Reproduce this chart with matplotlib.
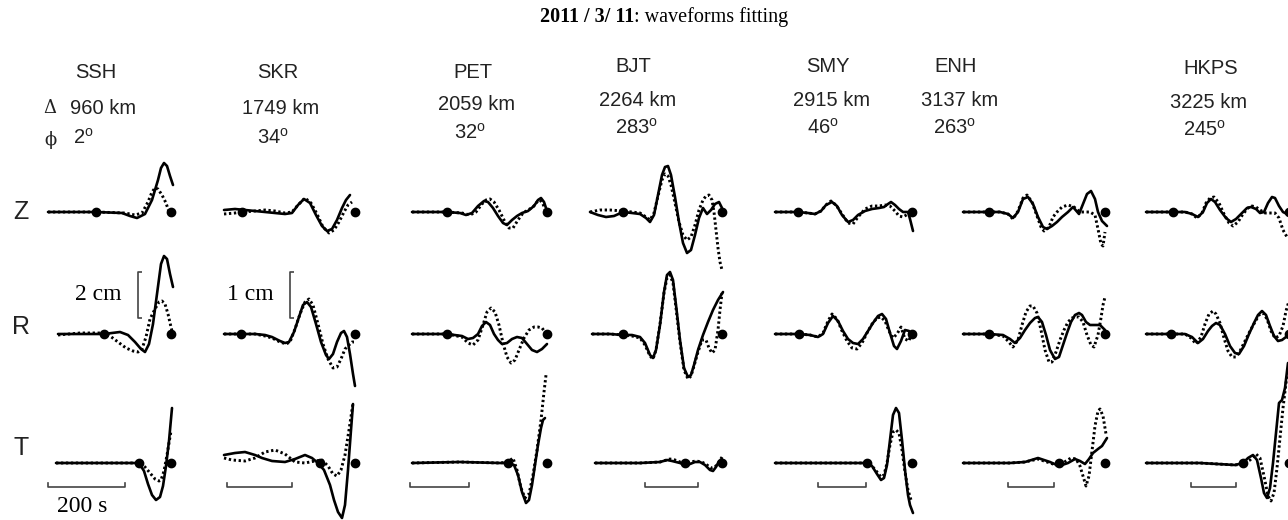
import numpy as np
import matplotlib.pyplot as plt

# Figure size in pixels (dpi 100)
W, H = 1288, 520

stations = ["SSH", "SKR", "PET", "BJT", "SMY", "ENH", "HKPS"]
distances_km = [960, 1749, 2059, 2264, 2915, 3137, 3225]
azimuths_deg = [2, 34, 32, 283, 46, 263, 245]
components = ["Z", "R", "T"]

# number of samples covered by the 200 s time bar at each station
bar_samples = [77, 65, 59, 53, 48, 46, 45]
bar_start = [-123, -128, -137, -77, -94, -97, -98]

# arrival picks (sample index relative to the window end) for Z, R, T
SSH_PICKS = [-75, -67, -32]
SKR_PICKS = [-113, -114, -35]
PET_PICKS = [-100, -100, -39]
BJT_PICKS = [-99, -99, -37]
SMY_PICKS = [-114, -113, -45]
ENH_PICKS = [-116, -116, -46]
HKPS_PICKS = [-116, -118, -46]

# Waveform knots: (sample index relative to window end, amplitude)
# OBS = recorded (solid), SYN = synthetic (dotted)
SSH_Z_OBS = [(-123, 0), (-75, 0), (-49, -1), (-41, -4), (-34, -6), (-26, -2), (-19, 12), (-13, 32),
             (-10, 44), (-7, 49), (-4, 46), (-1, 36), (2, 27)]
SSH_Z_SYN = [(-123, 0), (-75, 0), (-46, -1), (-36, -3), (-29, -1), (-23, 10), (-19, 20), (-16, 24),
             (-13, 23), (-9, 17), (-5, 9), (-2, 0), (0, -4)]
SSH_R_OBS = [(-113, 0), (-67, 0), (-51, 2), (-43, -1), (-36, -8), (-30, -15), (-26, -18), (-22, -10),
             (-18, 10), (-14, 40), (-10, 70), (-7, 78), (-4, 75), (-1, 60), (2, 47)]
SSH_R_SYN = [(-113, -1), (-91, 1), (-67, 1), (-61, -2), (-53, -8), (-45, -14), (-38, -17), (-33, -18),
             (-29, -15), (-25, -3), (-21, 15), (-16, 25), (-12, 32), (-9, 33), (-6, 30), (-3, 20),
             (0, 7), (2, -1)]
SSH_T_OBS = [(-115, 0), (-71, 0), (-32, 0), (-27, -8), (-23, -21), (-19, -32), (-15, -37), (-11, -34),
             (-8, -23), (-5, -3), (-2, 22), (1, 55)]
SSH_T_SYN = [(-115, 0), (-71, 0), (-32, 0), (-26, -4), (-21, -10), (-16, -16), (-12, -18), (-10, -17),
             (-7, -8), (-4, 8), (-2, 20), (0, 32)]

SKR_Z_OBS = [(-131, 2), (-120, 3), (-110, 2), (-100, 1), (-90, 0), (-80, -1), (-70, -2), (-63, -1),
             (-57, 7), (-51, 13), (-45, 9), (-39, -3), (-33, -14), (-28, -19), (-23, -17), (-18, -8),
             (-13, 4), (-9, 12), (-5, 17)]
SKR_Z_SYN = [(-131, -2), (-120, -1), (-113, 0), (-100, 1), (-90, 2), (-80, 1), (-70, -1), (-63, 0),
             (-57, 7), (-50, 14), (-44, 9), (-38, -2), (-32, -15), (-26, -21), (-21, -18), (-16, -10),
             (-11, 0), (-7, 7), (-3, 10)]
SKR_R_OBS = [(-131, 0), (-114, 0), (-100, 0), (-90, -1), (-83, -3), (-75, -7), (-70, -9), (-66, -8),
             (-61, 2), (-56, 17), (-52, 29), (-48, 32), (-44, 27), (-39, 10), (-34, -8), (-29, -21),
             (-26, -25), (-22, -20), (-18, -8), (-14, 1), (-11, 3), (-8, -3), (-5, -20), (-2, -40),
             (0, -52)]
SKR_R_SYN = [(-131, 0), (-114, 0), (-100, 0), (-90, -2), (-83, -4), (-75, -8), (-69, -10), (-65, -8),
             (-60, 5), (-55, 20), (-50, 32), (-46, 35), (-42, 29), (-37, 10), (-32, -10), (-27, -25),
             (-22, -34), (-18, -33), (-14, -25), (-10, -15), (-6, -11), (-3, -8), (-1, -8)]
SKR_T_OBS = [(-131, 8), (-120, 10), (-110, 11), (-100, 8), (-93, 5), (-83, 2), (-70, 1), (-60, 4),
             (-50, 8), (-43, 5), (-37, 0), (-31, -7), (-25, -22), (-21, -37), (-17, -49), (-13, -55),
             (-10, -42), (-7, -7), (-4, 33), (-2, 59)]
SKR_T_SYN = [(-131, 5), (-123, 3), (-110, 2), (-100, 5), (-90, 11), (-80, 13), (-70, 9), (-60, 1),
             (-50, 0), (-40, 2), (-33, 3), (-27, -3), (-22, -11), (-18, -13), (-14, -7), (-10, 8),
             (-6, 33), (-2, 60)]

PET_Z_OBS = [(-135, 0), (-100, 0), (-87, -1), (-81, -3), (-75, -1), (-69, 6), (-63, 11), (-59, 10),
             (-54, 4), (-49, -4), (-44, -11), (-40, -13), (-35, -8), (-30, -4), (-25, -1), (-19, 1),
             (-13, 6), (-9, 12), (-6, 14), (-3, 10), (0, 1)]
PET_Z_SYN = [(-135, 0), (-100, 0), (-85, -1), (-77, -3), (-71, 0), (-65, 8), (-61, 12), (-57, 13),
             (-53, 10), (-48, 2), (-43, -8), (-38, -16), (-34, -16), (-29, -8), (-24, -1), (-19, 2),
             (-14, 5), (-10, 10), (-7, 12), (-4, 8), (-1, 0)]
PET_R_OBS = [(-135, 0), (-100, 0), (-85, -2), (-79, -5), (-74, -4), (-69, 0), (-65, 8), (-61, 12),
             (-57, 9), (-53, 0), (-49, -6), (-45, -10), (-40, -9), (-35, -5), (-30, -3), (-25, -4),
             (-20, -10), (-15, -16), (-10, -18), (-5, -15), (0, -10)]
PET_R_SYN = [(-135, 0), (-100, 0), (-85, -3), (-79, -9), (-74, -11), (-69, -6), (-64, 9), (-60, 22),
             (-56, 26), (-52, 22), (-48, 9), (-44, -9), (-40, -23), (-36, -29), (-32, -26), (-28, -16),
             (-23, -4), (-18, 4), (-13, 7), (-9, 7), (-5, 6), (-2, 2), (0, -1)]
PET_T_OBS = [(-135, 0), (-87, 1), (-47, 0), (-39, 0), (-33, -2), (-29, -12), (-25, -29), (-21, -40),
             (-18, -37), (-15, -22), (-12, -2), (-9, 18), (-6, 35), (-4, 43), (-2, 45)]
PET_T_SYN = [(-135, 0), (-87, 1), (-47, 0), (-39, 1), (-34, 5), (-30, -7), (-26, -25), (-22, -35),
             (-18, -31), (-14, -12), (-10, 13), (-6, 43), (-3, 71), (-1, 88)]

BJT_Z_OBS = [(-132, 0), (-124, -3), (-116, -5), (-108, -4), (-99, 0), (-90, -1), (-82, -2), (-76, -6),
             (-72, -10), (-68, -3), (-64, 17), (-60, 37), (-57, 45), (-54, 46), (-51, 37), (-47, 15),
             (-43, -10), (-39, -31), (-35, -41), (-31, -38), (-27, -23), (-23, -6), (-19, 4), (-15, -2),
             (-11, 2), (-7, 8), (-3, 10), (0, 4)]
BJT_Z_SYN = [(-132, 0), (-122, 2), (-112, 2), (-99, 1), (-90, 0), (-82, -1), (-76, -5), (-72, -8),
             (-68, -1), (-64, 16), (-60, 32), (-57, 38), (-54, 36), (-51, 27), (-47, 9), (-43, -10),
             (-39, -23), (-35, -28), (-31, -25), (-27, -13), (-23, 2), (-19, 12), (-16, 16), (-13, 17),
             (-10, 12), (-8, 0), (-6, -18), (-4, -36), (-2, -50), (0, -58)]
BJT_R_OBS = [(-130, 0), (-112, 0), (-99, -1), (-90, -1), (-82, -3), (-77, -9), (-72, -21), (-69, -24),
             (-66, -16), (-62, 9), (-58, 42), (-55, 59), (-52, 62), (-49, 54), (-46, 29), (-42, -6),
             (-38, -34), (-34, -43), (-31, -41), (-28, -31), (-24, -16), (-19, -1), (-14, 12), (-9, 24),
             (-4, 34), (1, 42)]
BJT_R_SYN = [(-130, 0), (-112, 0), (-99, -1), (-90, -2), (-82, -4), (-77, -11), (-72, -22), (-69, -25),
             (-66, -16), (-62, 10), (-58, 41), (-55, 56), (-52, 59), (-49, 51), (-46, 26), (-42, -8),
             (-38, -36), (-34, -45), (-31, -42), (-28, -32), (-24, -18), (-20, -6), (-16, -6), (-13, -14),
             (-10, -19), (-7, -16), (-4, 4), (-2, 24), (0, 41)]
BJT_T_OBS = [(-127, 0), (-82, 0), (-62, 1), (-55, 3), (-50, 2), (-42, 0), (-37, -2), (-32, -1),
             (-27, 1), (-22, 1), (-17, -2), (-12, -7), (-9, -8), (-6, -4), (-3, 2), (0, 4)]
BJT_T_SYN = [(-127, 0), (-82, 0), (-62, 1), (-52, 4), (-47, 3), (-42, 1), (-37, -1), (-32, 1),
             (-26, 2), (-20, 1), (-15, -2), (-11, -5), (-7, -4), (-3, 1), (0, 6)]

SMY_Z_OBS = [(-137, 0), (-114, 0), (-104, -1), (-97, -2), (-91, 1), (-86, 7), (-80, 10), (-75, 6),
             (-70, -3), (-64, -10), (-59, -8), (-54, -3), (-47, 1), (-40, 3), (-33, 4), (-28, 5),
             (-24, 8), (-21, 10), (-17, 7), (-13, 3), (-9, 0), (-4, 0), (-2, -7), (1, -19)]
SMY_Z_SYN = [(-137, 0), (-114, 0), (-104, -1), (-97, -2), (-91, 1), (-86, 7), (-81, 11), (-76, 7),
             (-70, -2), (-64, -11), (-59, -12), (-54, -5), (-47, 3), (-40, 6), (-33, 6), (-27, 7),
             (-22, 6), (-17, 1), (-13, -4), (-9, -5), (-4, -2), (0, 0)]
SMY_R_OBS = [(-137, 0), (-113, 0), (-102, -1), (-94, -3), (-89, 0), (-84, 11), (-79, 18), (-74, 13),
             (-69, 3), (-64, -5), (-59, -9), (-54, -10), (-49, -5), (-44, 3), (-39, 11), (-34, 18),
             (-30, 20), (-26, 15), (-22, 1), (-18, -12), (-15, -15), (-11, -7), (-7, 4), (-3, 3), (0, -2)]
SMY_R_SYN = [(-137, 0), (-113, 0), (-102, -1), (-94, -3), (-89, 1), (-84, 13), (-80, 20), (-75, 15),
             (-70, 3), (-65, -7), (-60, -14), (-55, -15), (-50, -9), (-45, 1), (-40, 10), (-35, 16),
             (-31, 17), (-27, 13), (-23, 3), (-19, -4), (-15, 0), (-11, 7), (-7, -5), (-3, -7), (0, 3)]
SMY_T_OBS = [(-137, 0), (-72, 0), (-45, 0), (-40, -3), (-35, -11), (-31, -17), (-28, -15), (-25, -2),
             (-22, 23), (-19, 48), (-16, 55), (-13, 50), (-10, 23), (-7, -7), (-4, -32), (-2, -42),
             (1, -50)]
SMY_T_SYN = [(-137, 0), (-72, 0), (-45, 0), (-40, -3), (-35, -9), (-31, -14), (-28, -12), (-25, 0),
             (-22, 18), (-19, 31), (-16, 33), (-13, 30), (-10, 13), (-7, -9), (-4, -27), (-1, -37)]

ENH_Z_OBS = [(-142, 0), (-116, 0), (-105, 0), (-97, -2), (-92, -6), (-87, 0), (-82, 13), (-77, 15),
             (-72, 8), (-67, -5), (-62, -15), (-58, -17), (-53, -14), (-48, -10), (-43, -5), (-37, 0),
             (-32, 5), (-26, -2), (-22, 8), (-18, 18), (-14, 21), (-10, 13), (-7, 0), (-3, -9), (2, -14)]
ENH_Z_SYN = [(-142, 0), (-116, 0), (-105, 0), (-97, -2), (-92, -7), (-87, 1), (-82, 14), (-78, 17),
             (-73, 10), (-68, -4), (-64, -15), (-61, -19), (-56, -15), (-52, -5), (-48, 0), (-43, 5),
             (-37, 7), (-31, 5), (-25, 0), (-20, 0), (-15, 0), (-10, -3), (-7, -17), (-4, -32),
             (-2, -34), (0, -20)]
ENH_R_OBS = [(-142, 0), (-116, 0), (-102, -1), (-95, -5), (-90, -9), (-85, -4), (-80, 4), (-75, 11),
             (-70, 16), (-67, 17), (-63, 12), (-59, -1), (-55, -16), (-50, -25), (-46, -23), (-42, -11),
             (-38, 1), (-34, 12), (-30, 19), (-26, 21), (-23, 19), (-19, 12), (-15, 9), (-10, 9), (-5, 9),
             (0, 4)]
ENH_R_SYN = [(-142, 0), (-116, 0), (-102, -2), (-97, -7), (-92, -13), (-87, -6), (-83, 9), (-79, 22),
             (-75, 28), (-72, 28), (-68, 21), (-64, 4), (-60, -16), (-56, -28), (-53, -28), (-49, -18),
             (-45, -6), (-41, 4), (-37, 12), (-33, 16), (-29, 17), (-26, 17), (-22, 12), (-18, -1),
             (-14, -11), (-11, -13), (-7, -1), (-4, 16), (-2, 29), (0, 37)]
ENH_T_OBS = [(-142, 0), (-95, 0), (-80, 1), (-67, 5), (-55, 1), (-46, -3), (-37, 0), (-30, 4),
             (-25, 2), (-20, -1), (-16, 4), (-12, 10), (-7, 14), (-3, 17), (2, 25)]
ENH_T_SYN = [(-142, 0), (-95, 0), (-80, 1), (-67, 4), (-55, 0), (-46, -3), (-39, 2), (-34, 5),
             (-29, 4), (-25, -3), (-22, -13), (-19, -23), (-16, -13), (-13, 12), (-10, 37), (-7, 52),
             (-5, 54), (-2, 47), (1, 29)]

HKPS_Z_OBS = [(-143, 0), (-116, 0), (-104, 0), (-97, -2), (-91, -5), (-86, 0), (-82, 9), (-78, 13),
              (-74, 10), (-69, 2), (-63, -6), (-58, -10), (-53, -7), (-47, -1), (-42, 4), (-38, 5),
              (-33, 3), (-29, -1), (-25, 0), (-21, 9), (-17, 15), (-14, 14), (-10, 6), (-6, 0),
              (-2, -2), (1, -1)]
HKPS_Z_SYN = [(-143, 0), (-116, 0), (-104, 0), (-97, -2), (-92, -6), (-87, -1), (-83, 9), (-79, 14),
              (-75, 15), (-70, 9), (-65, -2), (-60, -11), (-56, -14), (-51, -10), (-46, -2), (-41, 4),
              (-37, 6), (-33, 5), (-29, 2), (-24, -1), (-19, -1), (-14, -1), (-10, -6), (-6, -18),
              (-2, -25), (1, -25)]
HKPS_R_OBS = [(-143, 0), (-118, 0), (-104, 0), (-97, -3), (-91, -9), (-86, -5), (-81, 3), (-77, 8),
              (-73, 11), (-69, 9), (-64, 0), (-59, -12), (-54, -19), (-50, -20), (-45, -12), (-40, 0),
              (-35, 11), (-31, 19), (-27, 23), (-23, 19), (-19, 8), (-15, -2), (-11, -7), (-7, -6),
              (-3, -3), (1, -2)]
HKPS_R_SYN = [(-143, 0), (-118, 0), (-104, 0), (-98, -4), (-93, -10), (-88, -3), (-84, 10), (-80, 20),
              (-76, 23), (-73, 20), (-69, 11), (-65, -4), (-61, -17), (-57, -23), (-53, -23), (-49, -17),
              (-44, -7), (-39, 3), (-34, 12), (-30, 19), (-26, 21), (-22, 15), (-18, 3), (-14, -4),
              (-10, -2), (-6, 8), (-3, 23), (0, 33)]
HKPS_T_OBS = [(-143, 0), (-89, 0), (-54, -2), (-46, 0), (-41, 5), (-36, 8), (-32, 3), (-28, -15),
              (-25, -30), (-22, -35), (-19, -25), (-16, 0), (-13, 30), (-10, 60), (-7, 63), (-4, 75),
              (-1, 100)]
HKPS_T_SYN = [(-143, 0), (-89, 0), (-54, -2), (-46, -1), (-39, 3), (-33, 9), (-29, 5), (-25, -13),
              (-21, -33), (-18, -38), (-15, -30), (-12, -5), (-9, 25), (-6, 55), (-3, 80), (0, 95)]

observed = {
    "SSH": [SSH_Z_OBS, SSH_R_OBS, SSH_T_OBS],
    "SKR": [SKR_Z_OBS, SKR_R_OBS, SKR_T_OBS],
    "PET": [PET_Z_OBS, PET_R_OBS, PET_T_OBS],
    "BJT": [BJT_Z_OBS, BJT_R_OBS, BJT_T_OBS],
    "SMY": [SMY_Z_OBS, SMY_R_OBS, SMY_T_OBS],
    "ENH": [ENH_Z_OBS, ENH_R_OBS, ENH_T_OBS],
    "HKPS": [HKPS_Z_OBS, HKPS_R_OBS, HKPS_T_OBS],
}
synthetic = {
    "SSH": [SSH_Z_SYN, SSH_R_SYN, SSH_T_SYN],
    "SKR": [SKR_Z_SYN, SKR_R_SYN, SKR_T_SYN],
    "PET": [PET_Z_SYN, PET_R_SYN, PET_T_SYN],
    "BJT": [BJT_Z_SYN, BJT_R_SYN, BJT_T_SYN],
    "SMY": [SMY_Z_SYN, SMY_R_SYN, SMY_T_SYN],
    "ENH": [ENH_Z_SYN, ENH_R_SYN, ENH_T_SYN],
    "HKPS": [HKPS_Z_SYN, HKPS_R_SYN, HKPS_T_SYN],
}
picks = [SSH_PICKS, SKR_PICKS, PET_PICKS, BJT_PICKS, SMY_PICKS, ENH_PICKS, HKPS_PICKS]

# page layout (pixels)
col_end = [171, 355, 547, 722, 912, 1105, 1289]
row_base = [212, 334, 463]
name_xy = [(96, 73), (278, 73), (473, 72), (633, 67), (828, 67), (956, 67), (1211, 68)]
dist_xy = [(103, 108), (281, 108), (477, 105), (638, 100), (832, 100), (960, 100), (1209, 102)]
azim_xy = [(83, 138), (273, 138), (470, 133), (637, 128), (823, 128), (955, 128), (1205, 130)]

plt.rcParams['font.family'] = ['Liberation Sans', 'DejaVu Sans']
plt.rcParams['mathtext.fontset'] = 'custom'
plt.rcParams['mathtext.rm'] = 'Liberation Sans'

fig = plt.figure(figsize=(W / 100, H / 100), dpi=100)
fig.patch.set_facecolor('white')

# overlay for text and amplitude bars, in pixel units
ax0 = fig.add_axes([0, 0, 1, 1])
ax0.set_xlim(0, W)
ax0.set_ylim(H, 0)
ax0.axis('off')

serif = 'Liberation Serif'
ax0.text(634, 17, "2011 / 3/ 11", family=serif, fontweight='bold', fontsize=14.5,
         ha='right', va='center')
ax0.text(634, 17, ": waveforms fitting", family=serif, fontsize=14.5, ha='left', va='center')

label_kw = dict(fontsize=14.5, ha='center', va='center', color='#222')
for i, st in enumerate(stations):
    ax0.text(*name_xy[i], st, **label_kw)
    ax0.text(*dist_xy[i], f"{distances_km[i]} km", **label_kw)
    ax0.text(*azim_xy[i], f"{azimuths_deg[i]}" + r"$^{\mathregular{o}}$", **label_kw)
ax0.text(50, 108, "\u0394", family='DejaVu Serif', fontsize=13, ha='center', va='center', color='#222')
ax0.text(51, 140, "\u03d5", family='DejaVu Serif', fontsize=13, ha='center', va='center', color='#222')

for comp, y in zip(components, [212, 327, 448]):
    ax0.text(21, y, comp, fontsize=18, ha='center', va='center', color='#222')

# amplitude scale bars
for bx, label in [(138, "2 cm"), (290, "1 cm")]:
    ax0.plot([bx + 4, bx, bx, bx + 4], [272, 272, 318, 318], color='#444', lw=1.2,
             solid_capstyle='butt')
    ax0.text(bx - 16, 294, label, family=serif, fontsize=17, ha='right', va='center')
ax0.text(82, 507, "200 s", family=serif, fontsize=17, ha='center', va='center')

for i, st in enumerate(stations):
    dt = 200.0 / bar_samples[i]  # seconds per sample
    ax = fig.add_axes([0, 0, 1, 1], label=st)
    ax.set_xlim(-col_end[i] * dt, (W - col_end[i]) * dt)
    ax.set_ylim(H, 0)
    ax.axis('off')
    ax.patch.set_alpha(0)

    for r in range(3):
        base = row_base[r]
        obs = np.array(observed[st][r], dtype=float)
        syn = np.array(synthetic[st][r], dtype=float)
        ax.plot(obs[:, 0] * dt, base - obs[:, 1], color='black', lw=1.9,
                solid_joinstyle='round', solid_capstyle='round', zorder=3)
        ax.plot(syn[:, 0] * dt, base - syn[:, 1], color='black', lw=2.1,
                linestyle=(0, (0.8, 0.9)), zorder=4)
        ax.plot([picks[i][r] * dt, 0], [base, base], 'o', color='black', ms=6, zorder=5)

    # 200 s time bar
    t0 = bar_start[i] * dt
    ax.plot([t0, t0, t0 + 200, t0 + 200], [483, 487, 487, 483], color='#444', lw=1.2)

fig.savefig("out.png", dpi=100)
